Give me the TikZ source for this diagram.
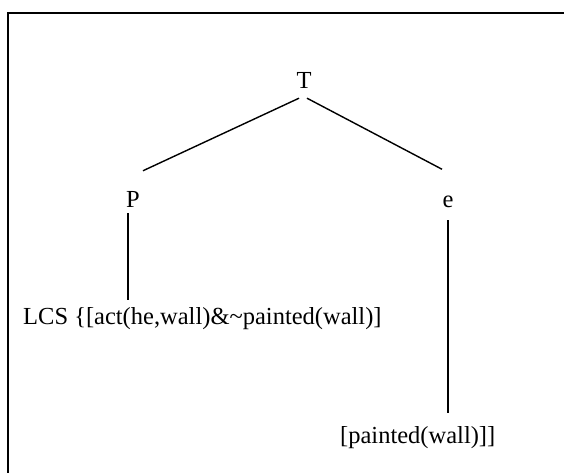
\documentclass[tikz,border=0pt]{standalone}
\usepackage{fontspec}
\setmainfont{Liberation Serif}
\usepackage{tikz}

\begin{document}
\begin{tikzpicture}[x=1pt, y=-1pt, every node/.style={inner sep=0pt, font=\fontsize{24.5}{29}\selectfont}]

% Dimensions
\def\width{564}
\def\height{473}

% Frame
\useasboundingbox (0, 0) rectangle (\width, \height);
\clip (0, 0) rectangle (\width, \height);
\draw[line width=2pt] (8, 13) rectangle (\width + 20, \height + 20);

% Tree labels
\node[anchor=base] (T) at (304, 89) {T};
\node[anchor=base] (P) at (133, 207) {P};
\node[anchor=base] (e) at (448, 207) {e};
\node[anchor=base west] (lcs) at (23, 324) {LCS \{[act(he,wall)\&\textasciitilde painted(wall)]};
\node[anchor=base west] (paint) at (340, 443) {[painted(wall)]]};

% Branches
\draw[line width=1.4pt] ([xshift=-5pt, yshift=-9pt]T.south) -- ([xshift=10pt, yshift=20pt]P.north);
\draw[line width=1.4pt] ([xshift=3pt, yshift=-9pt]T.south) -- ([xshift=-6pt, yshift=26pt]e.north);
\draw[line width=1.4pt] ([xshift=-5pt, yshift=-6pt]P.south) -- ([xshift=-5pt, yshift=-93pt]P.south);
\draw[line width=1.4pt] ([yshift=-13pt]e.south) -- ([yshift=-206pt]e.south);

\end{tikzpicture}
\end{document}
